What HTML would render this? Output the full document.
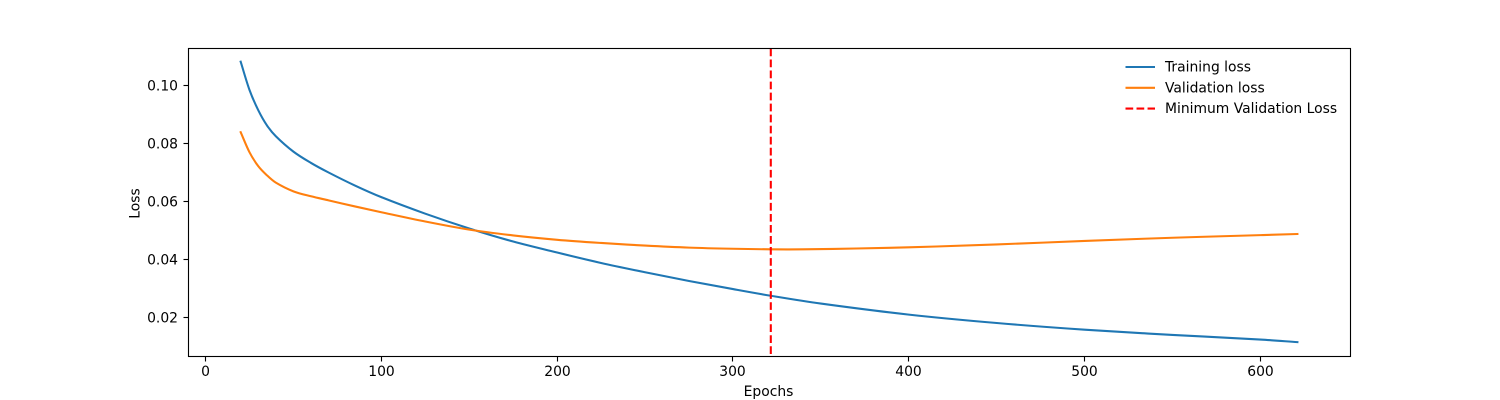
<!DOCTYPE html>
<html lang="en">
<head>
<meta charset="utf-8">
<title>Training and validation loss</title>
<style>
html,body{margin:0;padding:0;background:#fff;}
#chart{display:block;width:1500px;height:400px;}
text{font-family:"DejaVu Sans",sans-serif;font-size:13.89px;fill:#000;}
</style>
</head>
<body>
<svg id="chart" xmlns="http://www.w3.org/2000/svg" width="1500" height="400" viewBox="0 0 1500 400"></svg>
<script>
const trainEpochs = [20,25,30,35,40,50,60,70,85,100,125,150,175,200,225,250,275,300,321.5,350,400,450,500,550,600,621];
const trainLoss = [0.1082,0.0985,0.0915,0.0862,0.0825,0.0772,0.0733,0.07,0.0655,0.0615,0.0558,0.0507,0.0462,0.0424,0.0388,0.0356,0.0326,0.0298,0.0275,0.0248,0.021,0.0181,0.0158,0.014,0.0124,0.0115];
const valEpochs = [20,25,30,35,40,50,60,70,85,100,125,150,175,200,225,250,275,300,321.5,340,370,400,450,500,550,600,621];
const valLoss = [0.0839,0.077,0.0722,0.069,0.0665,0.0635,0.0618,0.0604,0.0583,0.0563,0.0531,0.0503,0.0483,0.0468,0.0457,0.0448,0.0441,0.0437,0.0435,0.0435,0.0438,0.0442,0.0452,0.0464,0.0475,0.0484,0.0488];
const minValEpoch = [321.5];
const xTicks = [0,100,200,300,400,500,600];
const yTicks = [0.02,0.04,0.06,0.08,0.10];
const yTickLabels = ['0.02','0.04','0.06','0.08','0.10'];
const legendLabels = ['Training loss','Validation loss','Minimum Validation Loss'];

const svg = document.getElementById('chart');
const NS = 'http://www.w3.org/2000/svg';
const box = {left:188.5, right:1350.5, top:48.5, bottom:356.5};
const xScale = v => 205.5 + v * 1.7583;
const yScale = v => 317.5 - (v - 0.02) * 2900;
const snap = v => Math.floor(v) + 0.5;

function add(tag, attrs, parent) {
  const el = document.createElementNS(NS, tag);
  for (const k in attrs) el.setAttribute(k, attrs[k]);
  (parent || svg).appendChild(el);
  return el;
}
function smoothPath(xs, ys) {
  const p = xs.map((x, i) => [xScale(x), yScale(ys[i])]);
  let d = 'M' + p[0][0].toFixed(2) + ' ' + p[0][1].toFixed(2);
  for (let i = 0; i < p.length - 1; i++) {
    const a = p[Math.max(i - 1, 0)], b = p[i], c = p[i + 1], e = p[Math.min(i + 2, p.length - 1)];
    const s0 = (c[1] - a[1]) / (c[0] - a[0]), s1 = (e[1] - b[1]) / (e[0] - b[0]);
    const h = (c[0] - b[0]) / 3;
    d += ' C' + (b[0] + h).toFixed(2) + ' ' + (b[1] + s0 * h).toFixed(2) + ' ' +
         (c[0] - h).toFixed(2) + ' ' + (c[1] - s1 * h).toFixed(2) + ' ' +
         c[0].toFixed(2) + ' ' + c[1].toFixed(2);
  }
  return d;
}

const bg = add('rect', {x:box.left, y:box.top, width:box.right - box.left, height:box.bottom - box.top, fill:'#fff'});



const trainLine = add('path', {d:smoothPath(trainEpochs, trainLoss), fill:'none', stroke:'#1f77b4', 'stroke-width':2.08, 'stroke-linecap':'square'});



const valLine = add('path', {d:smoothPath(valEpochs, valLoss), fill:'none', stroke:'#ff7f0e', 'stroke-width':2.08, 'stroke-linecap':'square'});



const minLine = add('line', {x1:xScale(minValEpoch[0]), x2:xScale(minValEpoch[0]), y1:box.top, y2:box.bottom, stroke:'#ff0000', 'stroke-width':2.08, 'stroke-dasharray':'7.7 3.33'});



const frame = add('rect', {x:box.left, y:box.top, width:box.right - box.left, height:box.bottom - box.top, fill:'none', stroke:'#000', 'stroke-width':1.11});



xTicks.forEach(v => {
  const x = snap(xScale(v));
  const tick = add('line', {x1:x, x2:x, y1:box.bottom, y2:box.bottom + 5, stroke:'#000', 'stroke-width':1.11});
  
  
  const label = add('text', {x:x, y:376, 'text-anchor':'middle'});
  label.textContent = String(v);
  
  
});

yTicks.forEach((v, i) => {
  const y = snap(yScale(v));
  const tick = add('line', {x1:box.left - 5, x2:box.left, y1:y, y2:y, stroke:'#000', 'stroke-width':1.11});
  
  
  const label = add('text', {x:178, y:y + 5, 'text-anchor':'end'});
  label.textContent = yTickLabels[i];
  
  
});

const xTitle = add('text', {x:768.5, y:396, 'text-anchor':'middle'});
xTitle.textContent = 'Epochs';



const yTitle = add('text', {x:0, y:0, 'text-anchor':'middle', transform:'translate(139.5 203.5) rotate(-90)'});
yTitle.textContent = 'Loss';



const legendStyles = [
  {stroke:'#1f77b4'},
  {stroke:'#ff7f0e'},
  {stroke:'#ff0000', 'stroke-dasharray':'7.7 3.33'}
];
legendLabels.forEach((name, i) => {
  const y = 67 + i * 20.8;
  const handle = add('line', Object.assign({x1:1125.5, x2:1155, y1:y, y2:y, 'stroke-width':2.08}, legendStyles[i]));
  
  
  const label = add('text', {x:1165, y:y + 4.5});
  label.textContent = name;
  
  
});
</script>
</body>
</html>
